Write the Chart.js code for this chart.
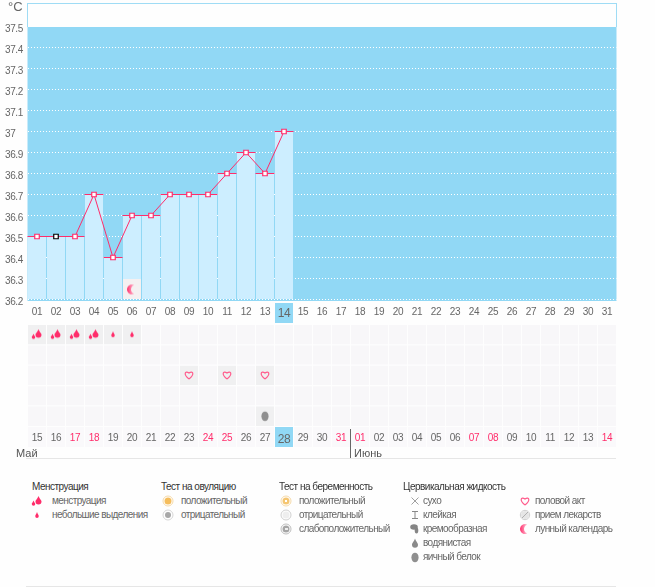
<!DOCTYPE html>
<html>
<head>
<meta charset="utf-8">
<script src="https://cdn.jsdelivr.net/npm/chart.js@4"></script>
<style>
html, body { margin: 0; padding: 0; background: #fefefe; }
body { width: 655px; height: 587px; position: relative; overflow: hidden; font-family: "Liberation Sans", sans-serif; color: #666; }
canvas { position: absolute; left: 0; }
#tempChart { top: 0; }
#rowChart { top: 323px; }
.abs { position: absolute; white-space: nowrap; line-height: 12px; }
.title { font-size: 10px; letter-spacing: -0.5px; color: #333; }
.item { font-size: 10px; letter-spacing: -0.58px; color: #666; }
.month { font-size: 11px; color: #555; line-height: 14px; }
#frame { position: absolute; left: 27px; top: 3px; width: 590px; height: 24px; border: 1px solid #9fdcf5; border-bottom: 0; box-sizing: border-box; }
</style>
</head>
<body>
<div id="frame"></div>
<canvas id="tempChart" width="655" height="323"></canvas>
<canvas id="rowChart" width="655" height="135"></canvas>
<div class="abs" style="left:26px;top:458px;width:590px;height:1px;background:#e6e6e6"></div>
<div class="abs" style="left:26px;top:586px;width:590px;height:1px;background:#e6e6e6"></div>
<div class="abs" style="left:350px;top:429px;width:1px;height:29px;background:#666"></div>
<div class="abs month" style="left:16px;top:446px">Май</div>
<div class="abs month" style="left:354px;top:446px">Июнь</div>
<div id="legend"></div>
<script>
const days = ['01','02','03','04','05','06','07','08','09','10','11','12','13','14','15','16','17','18','19','20','21','22','23','24','25','26','27','28','29','30','31'];
const temps = [36.5,36.5,36.5,36.7,36.4,36.6,36.6,36.7,36.7,36.7,36.8,36.9,36.8,37];
const lowerDates = ['15','16','17','18','19','20','21','22','23','24','25','26','27','28','29','30','31','01','02','03','04','05','06','07','08','09','10','11','12','13','14'];
const redDates = ['17','18','24','25','31','01','07','08','14'];
const blackMarkerDay = '02';
const todayDay = '14';
const moonDay = '06';
const moonLevel = 36.248;
const flowHeavy = ['01','02','03','04'];
const flowLight = ['05','06'];
const heartDays = ['09','11','13'];
const eggDays = ['13'];
const rowCount = 5;

const pink = '#ff2d6b';
const skyBlue = '#91d8f5';
const barBlue = '#cdeeff';
const labelGrey = '#666666';

function dropPath(c, x, y, w, h) {
    c.beginPath();
    c.moveTo(x, y - h / 2);
    c.bezierCurveTo(x + w * 0.2, y - h * 0.1, x + w / 2, y, x + w / 2, y + h * 0.2);
    c.arc(x, y + h * 0.2, w / 2, 0, Math.PI);
    c.bezierCurveTo(x - w / 2, y, x - w * 0.2, y - h * 0.1, x, y - h / 2);
    c.fill();
}

function ring(c, x, y, outer, inner, edge, fill) {
    c.beginPath(); c.arc(x, y, outer, 0, 7); c.fillStyle = '#fff'; c.fill();
    c.strokeStyle = edge; c.lineWidth = 1; c.stroke();
    c.beginPath(); c.arc(x, y, inner, 0, 7); c.fillStyle = fill; c.fill();
}

const painters = {
    flood(c, w, h) {
        c.fillStyle = pink;
        dropPath(c, w / 2 + 1.5, h / 2 - 1, 6, 8);
        dropPath(c, w / 2 - 3.5, h / 2 + 2, 3.5, 5);
    },
    spot(c, w, h) { c.fillStyle = pink; dropPath(c, w / 2, h / 2, 3.5, 6); },
    heart(c, w, h) {
        const x = w / 2, y = h / 2;
        c.strokeStyle = '#ff5c8c'; c.lineWidth = 1.2;
        c.beginPath();
        c.moveTo(x, y + 4);
        c.bezierCurveTo(x - 6, y - 0.5, x - 4, y - 5, x, y - 2);
        c.bezierCurveTo(x + 4, y - 5, x + 6, y - 0.5, x, y + 4);
        c.stroke();
    },
    moon(c, w, h) {
        const g = c.createLinearGradient(w / 2 - 5, 0, w / 2 + 2, 0);
        g.addColorStop(0, '#ff2d6b'); g.addColorStop(1, '#ffc2d4');
        c.fillStyle = g;
        c.beginPath(); c.arc(w / 2, h / 2, 5, Math.PI * 0.4, Math.PI * 1.6);
        c.arc(w / 2 + 3.5, h / 2, 4.5, -Math.PI * 0.6, Math.PI * 0.6, true);
        c.fill();
    },
    egg(c, w, h) {
        c.fillStyle = '#8f8f8f';
        c.beginPath(); c.ellipse(w / 2, h / 2 + 0.5, 3.6, 4.8, 0, 0, 7); c.fill();
    },
    ovPos(c, w, h) { ring(c, w / 2, h / 2, 5, 3.5, '#f5d9a8', '#f5bd5c'); },
    ovNeg(c, w, h) { ring(c, w / 2, h / 2, 5, 3, '#d5d5d5', '#a8a8a8'); },
    prPos(c, w, h) { ring(c, w / 2, h / 2, 5, 3.5, '#f5d9a8', '#f5c672'); c.fillStyle = '#fff'; c.fillRect(w / 2 - 1, h / 2 - 1, 2, 2); },
    prNeg(c, w, h) { ring(c, w / 2, h / 2, 5, 3.5, '#cfcfcf', '#eeeeee'); },
    prWeak(c, w, h) { ring(c, w / 2, h / 2, 5, 3.5, '#bdbdbd', '#a6a6a6'); c.fillStyle = '#eee'; c.fillRect(w / 2 - 1, h / 2 - 1, 3, 2); },
    dry(c, w, h) {
        c.strokeStyle = '#888'; c.lineWidth = 0.8;
        c.beginPath(); c.moveTo(w / 2 - 3.5, h / 2 - 3.5); c.lineTo(w / 2 + 3.5, h / 2 + 3.5);
        c.moveTo(w / 2 + 3.5, h / 2 - 3.5); c.lineTo(w / 2 - 3.5, h / 2 + 3.5); c.stroke();
    },
    sticky(c, w, h) {
        c.strokeStyle = '#888'; c.lineWidth = 1;
        c.beginPath(); c.moveTo(w / 2 - 3, h / 2 - 3.5); c.lineTo(w / 2 + 3, h / 2 - 3.5);
        c.moveTo(w / 2, h / 2 - 3.5); c.lineTo(w / 2, h / 2 + 3.5);
        c.moveTo(w / 2 - 3, h / 2 + 3.5); c.lineTo(w / 2 + 3, h / 2 + 3.5); c.stroke();
    },
    cream(c, w, h) {
        c.fillStyle = '#858585';
        c.beginPath(); c.ellipse(w / 2 - 1, h / 2 - 2, 3.8, 2.8, 0, 0, 7); c.fill();
        c.beginPath(); c.ellipse(w / 2 + 1.5, h / 2 + 1.5, 1.8, 3, 0, 0, 7); c.fill();
    },
    watery(c, w, h) { c.fillStyle = '#8a8a8a'; dropPath(c, w / 2, h / 2, 6, 9); },
    pill(c, w, h) {
        ring(c, w / 2, h / 2, 4.7, 4, '#cfcfcf', '#e6e6e6');
        c.strokeStyle = '#b0b0b0'; c.lineWidth = 1;
        c.beginPath(); c.moveTo(w / 2 - 3, h / 2 + 3); c.lineTo(w / 2 + 3, h / 2 - 3); c.stroke();
    }
};

function makeIcon(name, w, h, bg) {
    const el = document.createElement('canvas');
    el.width = w; el.height = h;
    const c = el.getContext('2d');
    if (bg) { c.fillStyle = bg; c.fillRect(0, 0, w, h); }
    painters[name](c, w, h);
    return el;
}

// fixed plot box so the columns land on the reference pixels
const plotLeft = 27.5;
const plotRight = 38.5;

const tempBackdrop = {
    id: 'tempBackdrop',
    beforeDraw(chart) {
        const { ctx, chartArea: a, scales: { x } } = chart;
        ctx.letterSpacing = '-0.4px';
        ctx.fillStyle = skyBlue;
        ctx.fillRect(a.left, a.top + 0.5, a.width, a.height + 1);
        ctx.fillRect(x.getPixelForValue(days.indexOf(todayDay)) - 9, a.bottom + 3.5, 18, 20);
    }
};

const rowBackdrop = {
    id: 'rowBackdrop',
    beforeDraw(chart) {
        const { ctx, chartArea: a, scales: { x } } = chart;
        ctx.letterSpacing = '-0.4px';
        lowerDates.forEach((d, i) => {
            const px = x.getPixelForValue(i);
            ctx.fillStyle = i === days.indexOf(todayDay) ? skyBlue : '#faf9fb';
            ctx.fillRect(px - 9, a.bottom + 1, 18, 20);
        });
    }
};

const heavyIcon = makeIcon('flood', 18, 18);
const lightIcon = makeIcon('spot', 18, 18);
const heartIcon = makeIcon('heart', 18, 18);
const eggIcon = makeIcon('egg', 18, 18);
const moonIcon = makeIcon('moon', 18, 20, '#f5f0f1');

new Chart(document.getElementById('tempChart'), {
    data: {
        labels: days,
        datasets: [
            {
                type: 'line', data: temps, order: 0,
                borderColor: pink, borderWidth: 1, tension: 0,
                pointStyle: 'rect', pointRadius: 3.2, pointBorderWidth: 1.2, pointBackgroundColor: '#fff',
                pointBorderColor: temps.map((v, i) => days[i] === blackMarkerDay ? '#000' : pink)
            },
            {
                type: 'line', data: temps, order: 1, showLine: false,
                pointStyle: 'line', pointRadius: 9.5, pointBorderWidth: 1, pointBorderColor: pink
            },
            {
                type: 'line', order: 2, showLine: false, pointRadius: 9, pointStyle: moonIcon,
                data: days.map(d => d === moonDay ? moonLevel : null)
            },
            {
                type: 'bar', data: temps, order: 3,
                backgroundColor: barBlue, categoryPercentage: 1, barPercentage: 18 / 19, base: 36.2
            }
        ]
    },
    options: {
        responsive: false,
        animation: false,
        events: [],
        layout: { autoPadding: false, padding: { left: 5, right: plotRight, top: 26.5, bottom: 0 } },
        plugins: { legend: { display: false }, tooltip: { enabled: false } },
        scales: {
            x: {
                offset: true,
                grid: { display: false, drawTicks: false },
                border: { display: false },
                afterFit(s) { s.height = 23.5; },
                ticks: {
                    autoSkip: false, maxRotation: 0, padding: 6.5,
                    color: labelGrey,
                    font: ctx => ({ family: 'Liberation Sans', size: days[ctx.index] === todayDay ? 12 : 10 })
                }
            },
            y: {
                min: 36.2, max: 37.5,
                afterFit(s) { s.width = plotLeft - 5; },
                border: { display: false, dash: [1, 2] },
                grid: {
                    drawTicks: false,
                    color: ctx => ctx.tick && ctx.tick.value > 37.45 ? 'rgba(0,0,0,0)' : '#fff'
                },
                ticks: {
                    stepSize: 0.1, crossAlign: 'far', padding: 0, labelOffset: 2.5,
                    color: labelGrey,
                    font: { family: 'Liberation Sans', size: 10 },
                    callback: v => String(Math.round(v * 10) / 10)
                }
            }
        }
    },
    plugins: [tempBackdrop]
});

const cellShade = (r, i) => {
    const d = days[i];
    const marked = (r === 0 && (flowHeavy.includes(d) || flowLight.includes(d))) ||
        (r === 2 && heartDays.includes(d)) || (r === 4 && eggDays.includes(d));
    return marked ? '#f0f0f1' : '#f8f7f9';
};

const cellSets = [];
for (let r = 0; r < rowCount; r++) {
    cellSets.push({
        type: 'bar', order: 2, stack: 'rows', data: days.map(() => 1),
        backgroundColor: days.map((d, i) => cellShade(r, i)),
        borderColor: '#fefefe', borderWidth: { top: 1, bottom: 0, left: 0, right: 0 }, borderSkipped: false,
        categoryPercentage: 1, barPercentage: 18 / 19
    });
}

// each mark set gets its own stack, the y axis is stacked for the cells
const rowMarks = (r, list, icon, stack) => ({
    type: 'line', order: 1, showLine: false, pointRadius: 9, pointStyle: icon, stack,
    data: days.map(d => list.includes(d) ? r + 0.5 : null)
});

new Chart(document.getElementById('rowChart'), {
    data: {
        labels: lowerDates,
        datasets: [
            ...cellSets,
            rowMarks(0, flowHeavy, heavyIcon, 'heavy'),
            rowMarks(0, flowLight, lightIcon, 'light'),
            rowMarks(2, heartDays, heartIcon, 'heart'),
            rowMarks(4, eggDays, eggIcon, 'egg')
        ]
    },
    options: {
        responsive: false,
        animation: false,
        events: [],
        layout: { autoPadding: false, padding: { left: plotLeft, right: plotRight, top: 1, bottom: 0 } },
        plugins: { legend: { display: false }, tooltip: { enabled: false } },
        scales: {
            x: {
                offset: true,
                stacked: true,
                grid: { display: false, drawTicks: false },
                border: { display: false },
                afterFit(s) { s.height = 32; },
                ticks: {
                    autoSkip: false, maxRotation: 0, padding: 6,
                    color: ctx => redDates.includes(lowerDates[ctx.index]) ? pink : labelGrey,
                    font: ctx => ({ family: 'Liberation Sans', size: days[ctx.index] === todayDay ? 12 : 10 })
                }
            },
            y: { display: false, stacked: true, reverse: true, min: 0, max: rowCount }
        }
    },
    plugins: [rowBackdrop]
});

// legend
const legendColumns = [
    { title: 'Менструация', x: 32, iconX: 37, textX: 52, items: [['flood', 'менструация'], ['spot', 'небольшие выделения']] },
    { title: 'Тест на овуляцию', x: 161, iconX: 167.5, textX: 181, items: [['ovPos', 'положительный'], ['ovNeg', 'отрицательный']] },
    { title: 'Тест на беременность', x: 279, iconX: 286, textX: 299, items: [['prPos', 'положительный'], ['prNeg', 'отрицательный'], ['prWeak', 'слабоположительный']] },
    { title: 'Цервикальная жидкость', x: 403, iconX: 415, textX: 423, items: [['dry', 'сухо'], ['sticky', 'клейкая'], ['cream', 'кремообразная'], ['watery', 'водянистая'], ['egg', 'яичный белок']] },
    { title: '', x: 525, iconX: 525, textX: 535, items: [['heart', 'половой акт'], ['pill', 'прием лекарств'], ['moon', 'лунный календарь']] }
];
const legendEl = document.getElementById('legend');
legendColumns.forEach(col => {
    if (col.title) {
        const t = document.createElement('div');
        t.className = 'abs title';
        t.style.left = col.x + 'px';
        t.style.top = '481px';
        t.textContent = col.title;
        legendEl.appendChild(t);
    }
    col.items.forEach(([icon, text], i) => {
        const y = 501 + i * 14;
        const ic = makeIcon(icon, 14, 14);
        ic.style.left = (col.iconX - 7) + 'px';
        ic.style.top = (y - 7) + 'px';
        legendEl.appendChild(ic);
        const t = document.createElement('div');
        t.className = 'abs item';
        t.style.left = col.textX + 'px';
        t.style.top = (y - 6) + 'px';
        t.textContent = text;
        legendEl.appendChild(t);
    });
});
const unit = document.createElement('div');
unit.className = 'abs';
unit.style.cssText = 'left:8px;top:1px;font-size:13px;color:#666';
unit.textContent = '°C';
legendEl.appendChild(unit);
</script>
</body>
</html>
